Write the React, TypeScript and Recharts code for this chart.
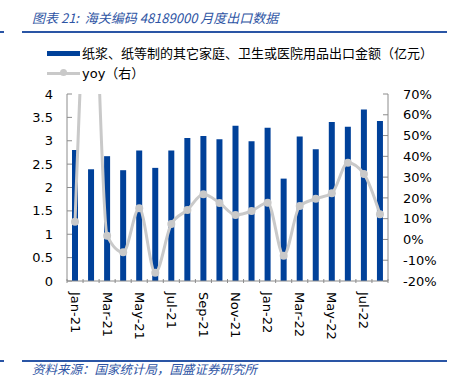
import React from "react";
import { ComposedChart, Bar, Line, XAxis, YAxis } from "recharts";

const months = [
  "Jan-21", "Feb-21", "Mar-21", "Apr-21", "May-21", "Jun-21", "Jul-21", "Aug-21", "Sep-21", "Oct-21",
  "Nov-21", "Dec-21", "Jan-22", "Feb-22", "Mar-22", "Apr-22", "May-22", "Jun-22", "Jul-22", "Aug-22",
];
const exportValue = [
  2.8, 2.39, 2.67, 2.37, 2.79, 2.42, 2.79, 3.06, 3.1, 3.03,
  3.32, 2.99, 3.28, 2.19, 3.09, 2.82, 3.4, 3.3, 3.67, 3.42,
];
const yoy = [
  0.085, 1.5, 0.018, -0.062, 0.15, -0.16, 0.074, 0.142, 0.217, 0.176,
  0.118, 0.137, 0.177, -0.078, 0.161, 0.196, 0.222, 0.369, 0.315, 0.121,
];
const leftTicks = [0, 0.5, 1, 1.5, 2, 2.5, 3, 3.5, 4];
const rightTicks = [-0.2, -0.1, 0, 0.1, 0.2, 0.3, 0.4, 0.5, 0.6, 0.7];

const data = months.map((m, i) => ({ month: m, value: exportValue[i], yoy: yoy[i] }));

const BLUE = "#00419A";
const GREY = "#C9C9C9";
const AXIS = "#8C8C8C";
const FONT = "'DejaVu Sans', Verdana, sans-serif";
const CJK = "'Noto Sans CJK SC', sans-serif";

const BAND = 321 / months.length;

function MonthTick(props: any) {
  const { x, y, payload, index } = props;
  const left = x - BAND / 2;
  const right = x + BAND / 2;
  return (
    <g>
      <line x1={left} x2={left} y1={y - 6} y2={y - 10} stroke={AXIS} />
      {index === months.length - 1 && (
        <line x1={right} x2={right} y1={y - 6} y2={y - 10} stroke={AXIS} />
      )}
      {index % 2 === 0 && (
        <text
          x={x}
          y={y + 3}
          transform={`rotate(90 ${x} ${y + 3})`}
          textAnchor="start"
          dominantBaseline="central"
          fontFamily={FONT}
          fontSize={13}
          fill="#000"
        >
          {payload.value}
        </text>
      )}
    </g>
  );
}

export default function App() {
  return (
    <div style={{ position: "fixed", left: 0, top: 0, width: 450, height: 377, background: "#fff", overflow: "hidden" }}>
      <div style={{ position: "absolute", left: 0, top: 31, width: 4, height: 2, background: "#2A55A5" }} />
      <div style={{ position: "absolute", left: 22, top: 31, width: 425, height: 2, background: "#2A55A5" }} />
      <div
        style={{
          position: "absolute", left: 32, top: 9, fontFamily: CJK, fontStyle: "italic",
          fontSize: 13, color: "#2E54A4", whiteSpace: "nowrap", lineHeight: "18px",
        }}
      >
        图表 21:&nbsp; 海关编码 48189000 月度出口数据
      </div>

      <div style={{ position: "absolute", left: 47, top: 51, width: 33, height: 5, background: BLUE }} />
      <div style={{ position: "absolute", left: 82, top: 44, fontFamily: CJK, fontSize: 13, lineHeight: "18px", whiteSpace: "nowrap", color: "#000" }}>
        纸浆、纸等制的其它家庭、卫生或医院用品出口金额（亿元）
      </div>
      <div style={{ position: "absolute", left: 47, top: 71.5, width: 33, height: 3, background: GREY }} />
      <div style={{ position: "absolute", left: 60, top: 69, width: 7, height: 7, borderRadius: 4, background: GREY }} />
      <div style={{ position: "absolute", left: 82, top: 64, fontFamily: CJK, fontSize: 13, lineHeight: "18px", whiteSpace: "nowrap", color: "#000" }}>
        <span style={{ fontFamily: FONT }}>yoy</span>（右）
      </div>

      <div style={{ position: "absolute", left: 0, top: 360, width: 4, height: 2, background: "#2A55A5" }} />
      <div style={{ position: "absolute", left: 22, top: 360, width: 425, height: 2, background: "#2A55A5" }} />
      <div
        style={{
          position: "absolute", left: 32, top: 362, fontFamily: CJK, fontStyle: "italic",
          fontSize: 12.5, color: "#2E54A4", whiteSpace: "nowrap", lineHeight: "14px",
        }}
      >
        资料来源：国家统计局，国盛证券研究所
      </div>

      <div style={{ position: "absolute", left: 0, top: 0 }}>
        <ComposedChart width={450} height={377} data={data} margin={{ top: 94, right: 12, left: 20, bottom: 26 }}>
          <XAxis
            dataKey="month"
            interval={0}
            height={70}
            tick={<MonthTick />}
            tickLine={false}
            axisLine={{ stroke: AXIS }}
          />
          <YAxis
            yAxisId="left"
            width={47}
            domain={[0, 4]}
            ticks={leftTicks}
            interval={0}
            tickFormatter={(v: number) => String(v)}
            tick={{ fill: "#000", fontSize: 13, fontFamily: FONT }}
            tickSize={-5}
            tickMargin={19}
            tickLine={{ stroke: AXIS }}
            axisLine={{ stroke: AXIS }}
          />
          <YAxis
            yAxisId="right"
            orientation="right"
            width={50}
            domain={[-0.2, 0.7]}
            ticks={rightTicks}
            interval={0}
            allowDataOverflow
            tickFormatter={(v: number) => `${Math.round(v * 100)}%`}
            tick={{ fill: "#000", fontSize: 13, fontFamily: FONT }}
            tickSize={-5}
            tickMargin={20}
            tickLine={{ stroke: AXIS }}
            axisLine={{ stroke: AXIS }}
          />
          <Bar yAxisId="left" dataKey="value" fill={BLUE} barSize={6} isAnimationActive={false} />
          <Line
            yAxisId="right"
            dataKey="yoy"
            type="monotone"
            stroke={GREY}
            strokeWidth={3}
            dot={{ r: 4, fill: GREY, stroke: GREY, strokeWidth: 0 }}
            isAnimationActive={false}
          />
        </ComposedChart>
      </div>
    </div>
  );
}
